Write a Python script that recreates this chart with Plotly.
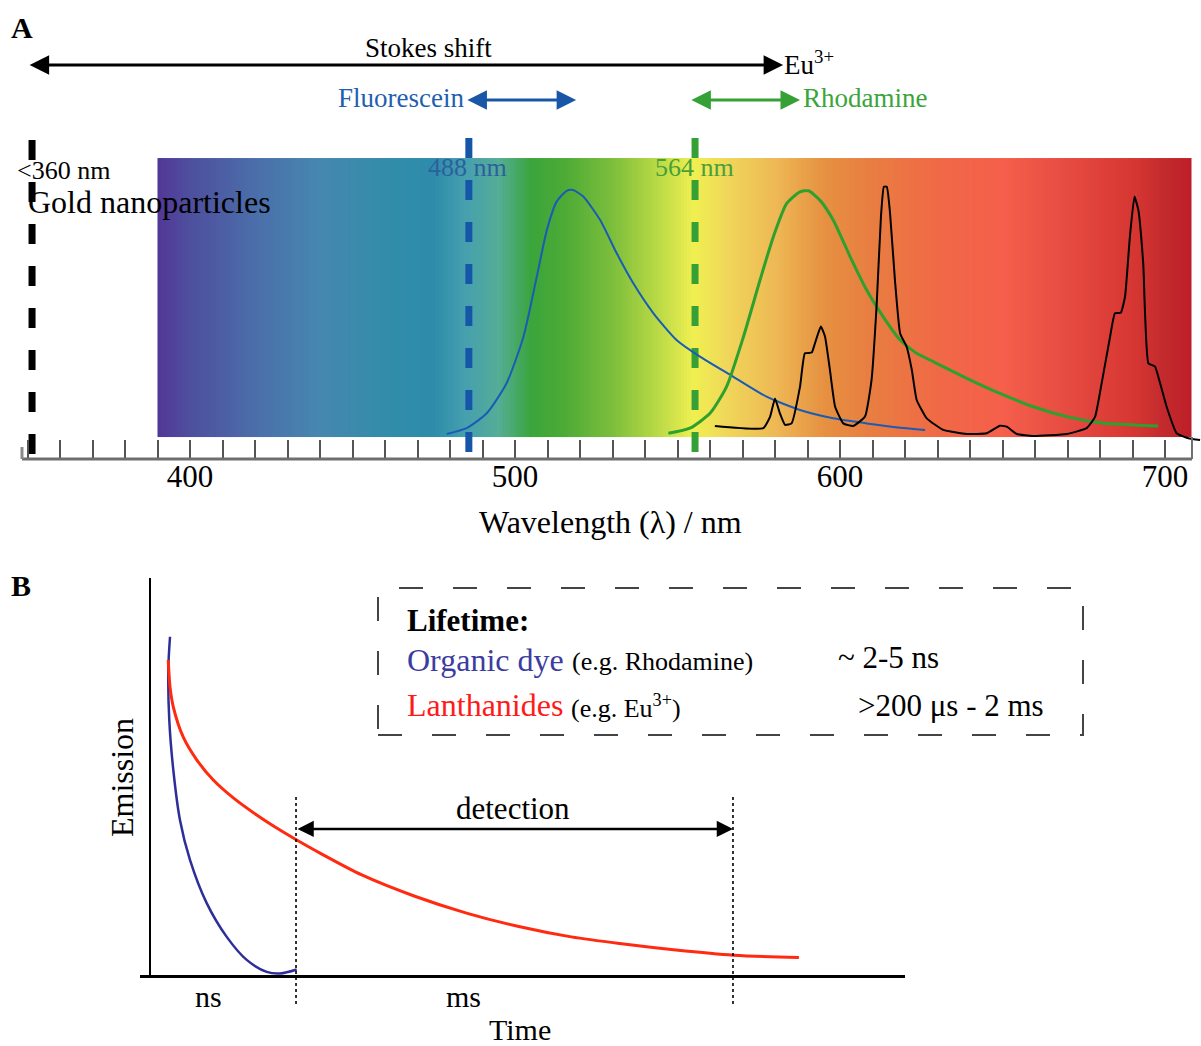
import numpy as np
import plotly.graph_objects as go

W, H = 1201, 1046
FONT = "Liberation Serif"

def P(x):
    return x / W

def Q(y):
    return 1 - y / H

# ---------------- Panel A data ----------------
spectrum_nm = [390, 400, 420, 440, 460, 475, 485, 495, 505, 515, 530, 545, 555, 565, 580, 595, 610, 630, 650, 670, 690, 700, 708]
spectrum_col = ["#523796", "#4e4f9e", "#4b6eaa", "#4687af", "#328caa", "#2d8caa", "#46a0ae", "#55ad96", "#3aa53c", "#4caa36", "#7cbe3c", "#bedc46", "#f0f050", "#f0d75a", "#eeb955", "#e69141", "#e87d41", "#f06946", "#f55f4b", "#e64b41", "#d73732", "#c32a2d", "#be1e28"]

fluorescein_nm = [479.0, 485.1, 491.3, 497.4, 502.6, 506.7, 509.8, 512.8, 515.9, 517.9, 521.0, 526.2, 531.3, 536.4, 542.6, 549.7, 556.9, 567.2, 577.4, 587.7, 597.9, 608.2, 618.5, 626.2]
fluorescein_int = [0.012, 0.035, 0.094, 0.213, 0.398, 0.636, 0.821, 0.934, 0.977, 0.980, 0.954, 0.861, 0.729, 0.610, 0.491, 0.385, 0.319, 0.239, 0.160, 0.107, 0.074, 0.054, 0.037, 0.028]

rhodamine_nm = [547.2, 553.8, 560.0, 565.1, 570.3, 575.4, 579.5, 583.6, 587.7, 590.3, 593.8, 597.9, 603.1, 608.2, 613.3, 618.5, 623.6, 628.7, 639.0, 649.2, 659.5, 669.8, 680.0, 690.3, 697.9]
rhodamine_int = [0.015, 0.035, 0.094, 0.200, 0.398, 0.623, 0.795, 0.927, 0.973, 0.977, 0.940, 0.861, 0.716, 0.583, 0.477, 0.385, 0.332, 0.299, 0.233, 0.173, 0.120, 0.081, 0.057, 0.048, 0.044]

europium_nm = [561.5, 576.4, 578.5, 580.0, 581.5, 583.1, 585.1, 587.7, 589.2, 591.3, 592.3, 594.1, 595.4, 596.9, 598.5, 601.0, 604.1, 607.7, 609.7, 611.3, 612.6, 613.5, 614.4, 615.4, 616.9, 618.5, 620.5, 622.1, 623.6, 626.7, 631.8, 639.0, 645.1, 649.2, 651.3, 654.4, 659.5, 669.8, 675.9, 678.5, 680.5, 683.1, 684.6, 686.4, 687.7, 689.2, 690.6, 691.8, 693.3, 694.9, 696.9, 698.5, 700.5, 703.6, 707.2, 710.8]
europium_int = [0.044, 0.035, 0.081, 0.153, 0.094, 0.048, 0.054, 0.200, 0.332, 0.335, 0.372, 0.438, 0.398, 0.266, 0.120, 0.054, 0.044, 0.081, 0.226, 0.530, 0.874, 0.993, 0.993, 0.888, 0.623, 0.411, 0.358, 0.266, 0.147, 0.074, 0.028, 0.012, 0.015, 0.045, 0.041, 0.012, 0.004, 0.012, 0.035, 0.081, 0.213, 0.398, 0.491, 0.493, 0.557, 0.795, 0.954, 0.901, 0.689, 0.292, 0.280, 0.213, 0.120, 0.015, -0.005, -0.012]

excitation_nm = [351.4, 485.8, 555.4]          # drawn positions of the dashed lines
excitation_col = ["#000000", "#1556a8", "#35a035"]
excitation_top = [1.179, 1.187, 1.187]
excitation_bot = [-0.083, -0.131, -0.131]

tick_nm = list(range(350, 701, 10))
tick_text = [str(v) if v % 100 == 0 else "" for v in tick_nm]

stokes_nm = [350.2, 582.5]
fluor_arrow_nm = [484.9, 518.8]
rhod_arrow_nm = [553.8, 587.7]
ruler_nm = [348.3, 708.3]

# ---------------- Panel B data ----------------
dye_t = [2.67, 2.44, 2.57, 3.11, 4.00, 5.33, 7.56, 10.23, 12.89, 15.56, 17.33, 19.56]
dye_e = [0.852, 0.768, 0.642, 0.516, 0.390, 0.290, 0.181, 0.096, 0.038, 0.008, 0.004, 0.014]
ln_t = [2.44, 2.67, 3.11, 4.44, 6.23, 8.44, 11.11, 14.23, 17.33, 19.56, 22.67, 28.24, 35.21, 42.2, 49.17, 56.16, 63.15, 70.12, 77.8, 86.52]
ln_e = [0.793, 0.725, 0.675, 0.599, 0.542, 0.491, 0.446, 0.403, 0.365, 0.340, 0.307, 0.252, 0.199, 0.156, 0.122, 0.096, 0.078, 0.063, 0.050, 0.044]
detection_t = [19.47, 77.73]
detection_e = 0.368

fig = go.Figure()

# gradient band
edges = np.linspace(spectrum_nm[0], ruler_nm[1], 321)
centers = (edges[:-1] + edges[1:]) / 2
lo, hi = spectrum_nm[0], spectrum_nm[-1]
cscale = [[(n - lo) / (hi - lo), c] for n, c in zip(spectrum_nm, spectrum_col)]
fig.add_trace(go.Heatmap(x=edges, y=[0, 1.107], z=[centers], colorscale=cscale,
                         zmin=lo, zmax=hi, showscale=False, hoverinfo="skip",
                         xaxis="x", yaxis="y"))

for n, c, t, b in zip(excitation_nm, excitation_col, excitation_top, excitation_bot):
    fig.add_trace(go.Scatter(x=[n, n], y=[t, b], mode="lines",
                             line=dict(color=c, width=7, dash="20px,22px"),
                             hoverinfo="skip", xaxis="x", yaxis="y"))

fig.add_trace(go.Scatter(x=fluorescein_nm, y=fluorescein_int, mode="lines",
                         line=dict(color="#1a5cb5", width=2, shape="spline", smoothing=0.6),
                         xaxis="x", yaxis="y"))
fig.add_trace(go.Scatter(x=rhodamine_nm, y=rhodamine_int, mode="lines",
                         line=dict(color="#2ea02e", width=3, shape="spline", smoothing=0.6),
                         xaxis="x", yaxis="y"))
fig.add_trace(go.Scatter(x=europium_nm, y=europium_int, mode="lines",
                         line=dict(color="#000000", width=2, shape="spline", smoothing=0.4),
                         xaxis="x", yaxis="y"))

fig.add_trace(go.Scatter(x=dye_t, y=dye_e, mode="lines",
                         line=dict(color="#2e2e9a", width=2.5, shape="spline", smoothing=1),
                         xaxis="x2", yaxis="y2"))
fig.add_trace(go.Scatter(x=ln_t, y=ln_e, mode="lines",
                         line=dict(color="#ff2a10", width=3, shape="spline", smoothing=0.9),
                         xaxis="x2", yaxis="y2"))

shapes = []
# ruler baseline
shapes.append(dict(type="line", xref="x", yref="paper", x0=ruler_nm[0], x1=ruler_nm[1],
                   y0=Q(459), y1=Q(459), line=dict(color="#6e6e6e", width=3)))
shapes.append(dict(type="line", xref="x", yref="paper", x0=ruler_nm[1], x1=ruler_nm[1],
                   y0=Q(437), y1=Q(459), line=dict(color="#6e6e6e", width=2)))
shapes.append(dict(type="line", xref="x", yref="paper", x0=ruler_nm[0], x1=ruler_nm[0],
                   y0=Q(447), y1=Q(459), line=dict(color="#8a8a8a", width=3)))
# detection window
for t in detection_t:
    shapes.append(dict(type="line", xref="x2", yref="paper", x0=t, x1=t,
                       y0=Q(797), y1=Q(1005), line=dict(color="#000000", width=1.6, dash="dot")))
# dashed box
shapes.append(dict(type="rect", xref="paper", yref="paper", x0=P(378), x1=P(1083),
                   y0=Q(735), y1=Q(588), line=dict(color="#444444", width=2, dash="24px,30px")))

ann = []

def txt(x, y, s, size, color="#000000", xanchor="left", bold=False, textangle=0):
    if bold:
        s = "<b>" + s + "</b>"
    ann.append(dict(x=P(x), y=Q(y), xref="paper", yref="paper", text=s, showarrow=False,
                    xanchor=xanchor, yanchor="middle", textangle=textangle,
                    font=dict(family=FONT, size=size, color=color)))

txt(9, 28, "A", 30, bold=True)
txt(428, 48, "Stokes shift", 27, xanchor="center")
txt(782, 63, "Eu<sup>3+</sup>", 27)
txt(466, 98, "Fluorescein", 27, color="#1f5fb0", xanchor="right")
txt(801, 98, "Rhodamine", 27, color="#3aa53a")
txt(15, 170, "&lt;360 nm", 26)
txt(26, 202, "Gold nanoparticles", 32)
txt(426, 167, "488 nm", 26, color="#2d5f9e")
txt(653, 167, "564 nm", 26, color="#48a03a")
txt(610, 522, "Wavelength (λ) / nm", 32, xanchor="center")

txt(9, 585, "B", 30, bold=True)
txt(405, 620, "Lifetime:", 31, bold=True)
txt(405, 660, "Organic dye", 32, color="#3c3ca0")
txt(570, 661, "(e.g. Rhodamine)", 26)
txt(836, 657, "~ 2-5 ns", 31)
txt(405, 705, "Lanthanides", 32, color="#ff1a1a")
txt(569, 706, "(e.g. Eu<sup>3+</sup>)", 26)
txt(856, 705, "&gt;200 μs - 2 ms", 31)
txt(122, 778, "Emission", 32, xanchor="center", textangle=-90)
txt(513, 808, "detection", 31, xanchor="center")
txt(208, 996, "ns", 30, xanchor="center")
txt(463, 996, "ms", 30, xanchor="center")
txt(520, 1029, "Time", 30, xanchor="center")

def arrow(xref, x0, x1, y, color, width, size, yref="paper"):
    ann.append(dict(x=x1, ax=x0, xref=xref, axref=xref, y=y, ay=y if yref != "paper" else 0,
                    yref=yref, ayref=yref if yref != "paper" else "pixel", text="",
                    showarrow=True, arrowside="end+start", arrowhead=2, startarrowhead=2,
                    arrowsize=size, startarrowsize=size, arrowwidth=width, arrowcolor=color,
                    standoff=0, startstandoff=0))

arrow("x", stokes_nm[0], stokes_nm[1], Q(65), "#000000", 3, 1.3)
arrow("x", fluor_arrow_nm[0], fluor_arrow_nm[1], Q(100), "#1a56a8", 3, 1.3)
arrow("x", rhod_arrow_nm[0], rhod_arrow_nm[1], Q(100), "#35a035", 3, 1.3)
arrow("x2", detection_t[0], detection_t[1], detection_e, "#000000", 2.5, 1.3, yref="y2")

fig.update_layout(
    width=W, height=H, autosize=False,
    margin=dict(l=0, r=0, t=0, b=0),
    paper_bgcolor="white", plot_bgcolor="rgba(0,0,0,0)",
    showlegend=False,
    font=dict(family=FONT, color="#000000"),
    xaxis=dict(domain=[0, 1], range=[400 - 190 / 3.25, 400 + (W - 190) / 3.25],
               anchor="free", position=Q(459), showgrid=False, zeroline=False,
               showline=False, tickmode="array", tickvals=tick_nm, ticktext=tick_text,
               ticks="inside", ticklen=19, tickwidth=2, tickcolor="#555555",
               ticklabelstandoff=-4,
               tickfont=dict(family=FONT, size=31, color="#000000"), fixedrange=True),
    yaxis=dict(domain=[Q(560), 1], range=[(437 - 560) / 252, 437 / 252], visible=False,
               fixedrange=True),
    xaxis2=dict(domain=[P(140), P(905)], range=[(140 - 150) / 7.5, (905 - 150) / 7.5],
                anchor="y2", showgrid=False, zeroline=False, showline=True,
                linecolor="#000000", linewidth=2.5, showticklabels=False, ticks=""),
    yaxis2=dict(domain=[Q(975), Q(578)], range=[0, 1], anchor="free", position=P(150),
                showgrid=False, zeroline=False, showline=True, linecolor="#000000",
                linewidth=2, showticklabels=False, ticks=""),
    shapes=shapes,
    annotations=ann,
)

fig.write_html("out.html", config={"displayModeBar": False},
               post_script="document.body.style.margin='0px';document.body.style.padding='0px';")
